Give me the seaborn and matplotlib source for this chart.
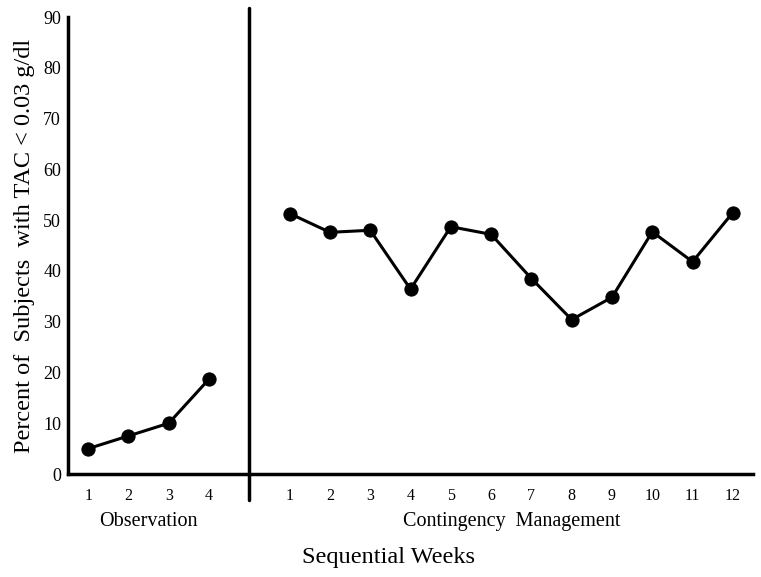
import matplotlib
matplotlib.use("Agg")
import matplotlib.pyplot as plt
import seaborn as sns
import pandas as pd
from matplotlib.lines import Line2D

obs_weeks = [1, 2, 3, 4]
obs_values = [5.0, 7.5, 10.0, 18.7]
cm_weeks = [1, 2, 3, 4, 5, 6, 7, 8, 9, 10, 11, 12]
cm_values = [51.3, 47.6, 48.0, 36.4, 48.7, 47.2, 38.5, 30.4, 34.8, 47.7, 41.8, 51.5]
y_ticks = [0, 10, 20, 30, 40, 50, 60, 70, 80, 90]

sns.set_theme(style="white")
plt.rcParams['font.family'] = ['Liberation Serif', 'DejaVu Serif']

obs_pos = list(range(1, len(obs_weeks) + 1))
div_pos = len(obs_weeks) + 1
cm_pos = [div_pos + i for i in range(1, len(cm_weeks) + 1)]

df_obs = pd.DataFrame({"pos": obs_pos, "val": obs_values})
df_cm = pd.DataFrame({"pos": cm_pos, "val": cm_values})

fig = plt.figure(figsize=(7.61, 5.77), dpi=100)
ax = fig.add_axes([0.0894, 0.1785, 0.9001, 0.792])

for d in (df_obs, df_cm):
    sns.lineplot(data=d, x="pos", y="val", ax=ax, color="black", marker="o",
                 markersize=9.5, linewidth=2.2, markeredgecolor="black")

ax.set_xlim(0.5, cm_pos[-1] + 0.5)
ax.set_ylim(0, 90)
ax.set_yticks(y_ticks)
ax.set_yticklabels([str(t) for t in y_ticks], fontsize=13)
ax.set_xticks(obs_pos + cm_pos)
ax.set_xticklabels([str(w) for w in obs_weeks] + [str(w) for w in cm_weeks], fontsize=11.5)
ax.tick_params(axis="both", direction="in", length=2, width=1.5, colors="black")
ax.tick_params(axis="x", pad=10)
ax.tick_params(axis="y", pad=5)

for s in ("top", "right"):
    ax.spines[s].set_visible(False)
for s in ("left", "bottom"):
    ax.spines[s].set_linewidth(2.5)
    ax.spines[s].set_color("black")

# divider
tr = ax.get_xaxis_transform()
ax.add_line(Line2D([div_pos, div_pos], [-0.057, 1.02], transform=tr, color="black",
                   linewidth=2.5, clip_on=False))

ax.set_xlabel("")
ax.set_ylabel("Percent of  Subjects  with TAC < 0.03 g/dl", fontsize=17.5, color="black", labelpad=6)

ax.text((obs_pos[0] + obs_pos[-1]) / 2, -0.105, "Observation", transform=tr,
        ha="center", va="center", fontsize=14.5, color="black")
ax.text((cm_pos[0] + cm_pos[-1]) / 2, -0.105, "Contingency  Management", transform=tr,
        ha="center", va="center", fontsize=14.5, color="black")
fig.text(389 / 761, 1 - 557 / 577, "Sequential Weeks", ha="center", va="center",
         fontsize=17.5, color="black")

fig.savefig("out.png", dpi=100)
